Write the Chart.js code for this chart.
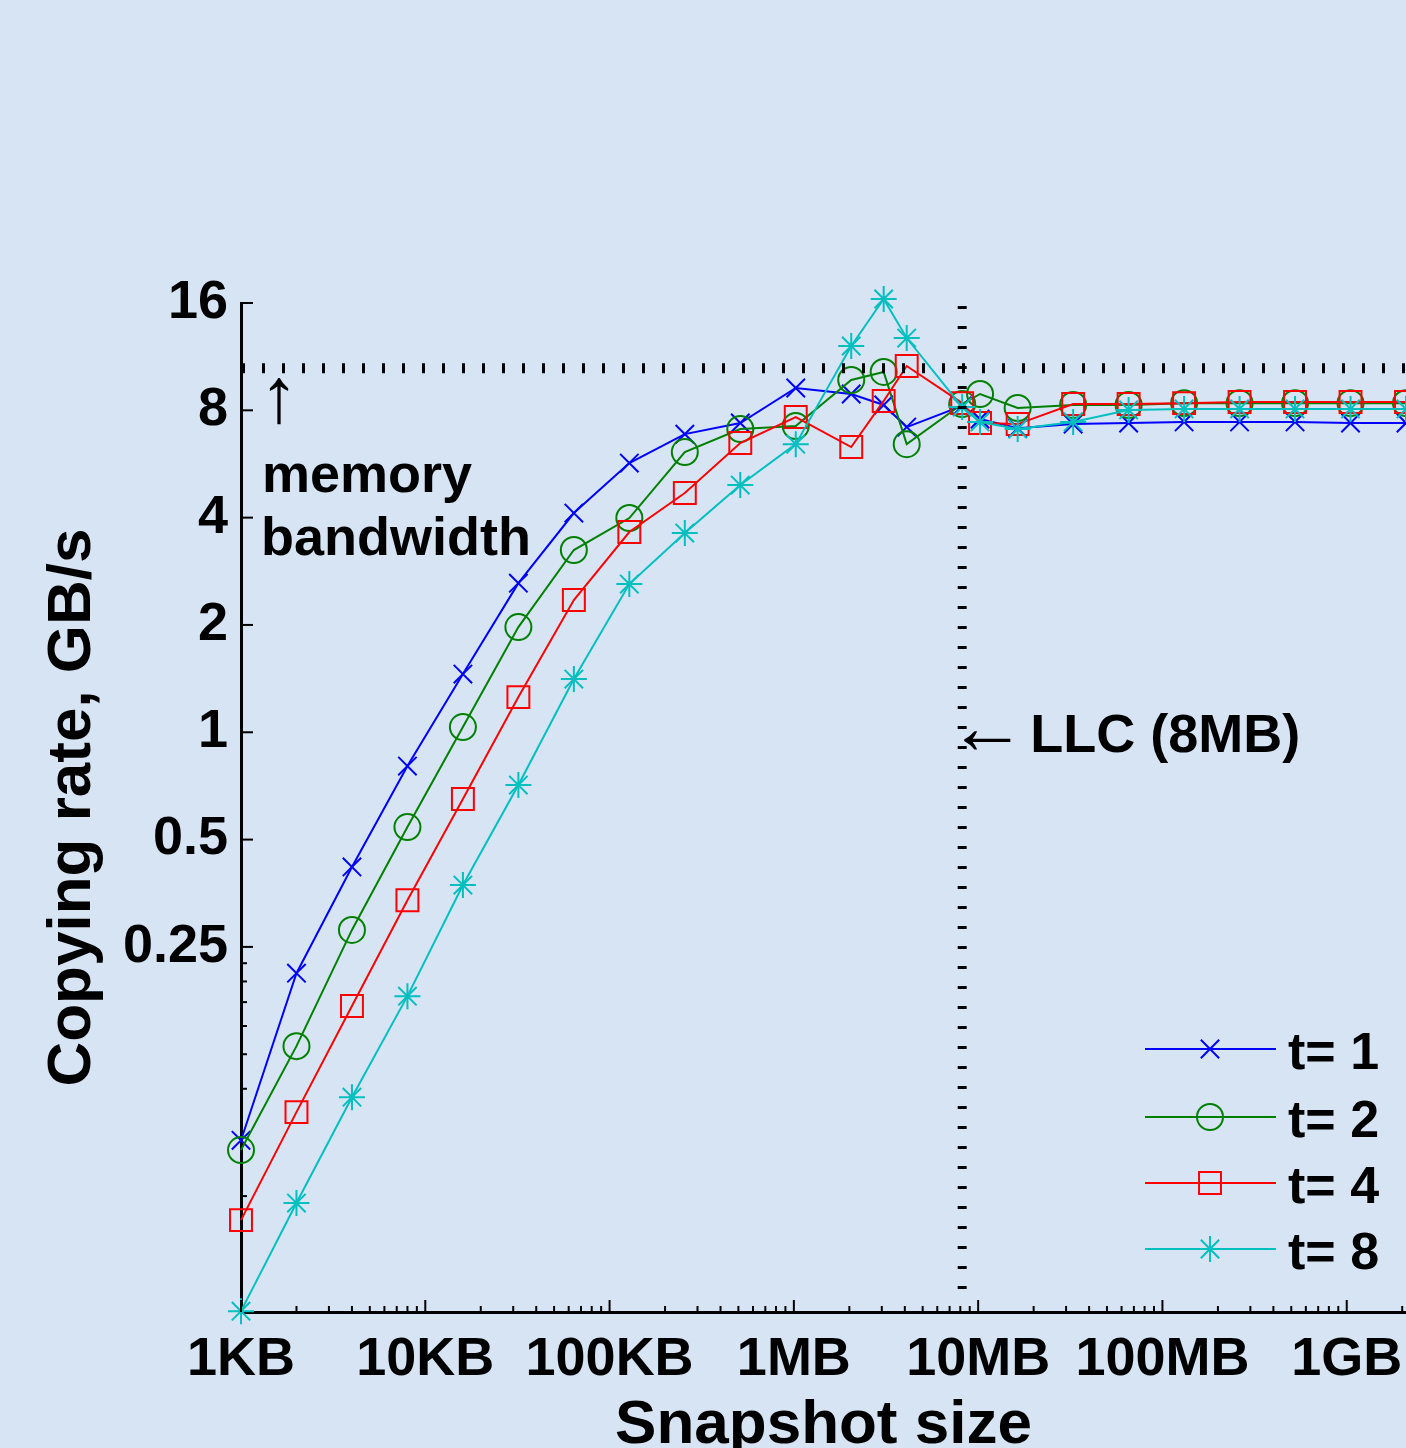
<!DOCTYPE html>
<html>
<head>
<meta charset="utf-8">
<script src="https://cdn.jsdelivr.net/npm/chart.js@4/dist/chart.umd.min.js"></script>
<style>
html,body{margin:0;padding:0;background:#D6E4F4;}
#wrap{width:1406px;height:1448px;position:relative;overflow:hidden;}
canvas{display:block;}
</style>
</head>
<body>
<div id="wrap"><canvas id="c" width="1406" height="1448"></canvas></div>
<script>
// ---- data (snapshot size in KB, copying rate in GB/s) ----
const sizesKB = [1,2,4,8,16,32,64,128,256,512,1024,2048,3072,4096,8192,10240,16384,32768,65536,131072,262144,524288,1048576,2097152];
const rateT1 = [0.0717,0.211,0.419,0.804,1.456,2.62,4.12,5.69,6.86,7.37,9.24,8.89,8.28,7.18,8.23,7.56,7.13,7.32,7.37,7.42,7.42,7.42,7.37,7.37];
const rateT2 = [0.0673,0.1317,0.279,0.542,1.034,1.973,3.245,3.99,6.11,7.09,7.23,9.73,10.25,6.43,8.33,8.89,8.12,8.28,8.28,8.38,8.38,8.38,8.38,8.38];
const rateT4 = [0.0428,0.086,0.1706,0.338,0.65,1.255,2.349,3.645,4.689,6.476,7.66,6.31,8.50,10.65,8.38,7.37,7.32,8.33,8.33,8.38,8.44,8.44,8.44,8.44];
const rateT8 = [0.02378,0.0478,0.0947,0.1819,0.3727,0.711,1.41,2.605,3.621,4.937,6.43,12.12,16.42,12.76,8.17,7.42,7.09,7.42,8.02,8.07,8.07,8.07,8.07,8.07];
const seriesLabels = ['t= 1','t= 2','t= 4','t= 8'];

const xTickValues = [1,10,100,1000,10000,100000,1000000];
const xTickLabels = ['1KB','10KB','100KB','1MB','10MB','100MB','1GB'];
const yTickValues = [0.25,0.5,1,2,4,8,16];
const yTickLabels = ['0.25','0.5','1','2','4','8','16'];
const yMinorTicks = [0.05,0.1,0.125,0.15,0.175,0.2,0.225];
const xMin = 1, xMax = 2097152;
const yMin = 0.02365, yMax = 16;
const memBandwidth = 10.5;   // GB/s
const llcSizeKB = 8192;      // 8MB

const xMinorTicks = [];
for (let d = 1; d <= 1e6; d *= 10) for (let m = 2; m <= 9; m++) if (d*m <= xMax) xMinorTicks.push(d*m);

const FONT = "'Liberation Sans', Arial, sans-serif";
const BG = '#D6E4F4';

const styles = [
  {color:'#0000FF', pointStyle:'crossRot', radius:13},
  {color:'#008000', pointStyle:'circle', radius:13},
  {color:'#FF0000', pointStyle:'rect', radius:15.5},
  {color:'#00BFBF', pointStyle:'star', radius:13}
];
const rates = [rateT1, rateT2, rateT4, rateT8];

const datasets = rates.map((r, i) => ({
  label: seriesLabels[i],
  data: sizesKB.map((s, k) => ({x: s, y: r[k]})),
  borderColor: styles[i].color,
  backgroundColor: 'rgba(0,0,0,0)',
  borderWidth: 2,
  pointStyle: styles[i].pointStyle,
  pointRadius: styles[i].radius,
  pointHoverRadius: styles[i].radius,
  pointBorderColor: styles[i].color,
  pointBackgroundColor: 'rgba(0,0,0,0)',
  pointBorderWidth: 2,
  tension: 0,
  clip: false,
  order: 4 - i
}));

function drawMarker(ctx, style, r, x, y) {
  if (Chart.helpers && Chart.helpers.drawPoint) {
    Chart.helpers.drawPoint(ctx, {pointStyle: style, radius: r, borderWidth: 2, rotation: 0}, x, y);
    return;
  }
  ctx.beginPath();
  ctx.arc(x, y, r, 0, Math.PI*2);
  ctx.stroke();
}

const bgPlugin = {
  id: 'bg',
  beforeDraw(chart) {
    const ctx = chart.ctx;
    ctx.save();
    ctx.fillStyle = BG;
    ctx.fillRect(0, 0, chart.width, chart.height);
    ctx.restore();
  }
};

const decorPlugin = {
  id: 'decor',
  afterDatasetsDraw(chart) {
    const {ctx, chartArea: a, scales: {x, y}} = chart;
    ctx.save();
    ctx.strokeStyle = '#000';
    // dotted memory-bandwidth line (horizontal)
    const py = y.getPixelForValue(memBandwidth);
    ctx.lineWidth = 10;
    ctx.lineCap = 'butt';
    ctx.setLineDash([3, 17]);
    ctx.beginPath();
    ctx.moveTo(a.left + 1, py);
    ctx.lineTo(a.right, py);
    ctx.stroke();
    // dotted LLC line (vertical)
    const px = x.getPixelForValue(llcSizeKB);
    ctx.lineWidth = 9;
    ctx.beginPath();
    ctx.moveTo(px, a.top + 3);
    ctx.lineTo(px, a.bottom - 8);
    ctx.stroke();
    ctx.restore();
  },
  afterDraw(chart) {
    const {ctx, chartArea: a, scales: {x, y}} = chart;
    ctx.save();
    ctx.strokeStyle = '#000';
    ctx.lineWidth = 2;
    ctx.setLineDash([]);
    const seg = (x1, y1, x2, y2) => { ctx.beginPath(); ctx.moveTo(x1, y1); ctx.lineTo(x2, y2); ctx.stroke(); };
    xTickValues.forEach(v => { const p = x.getPixelForValue(v); seg(p, a.bottom, p, a.bottom - 12); });
    xMinorTicks.forEach(v => { const p = x.getPixelForValue(v); seg(p, a.bottom, p, a.bottom - 6); });
    yTickValues.forEach(v => { const p = y.getPixelForValue(v); seg(a.left, p, a.left + 12, p); });
    yMinorTicks.forEach(v => { const p = y.getPixelForValue(v); seg(a.left, p, a.left + 6, p); });

    // annotations
    const llcX = x.getPixelForValue(llcSizeKB);
    ctx.fillStyle = '#000';
    ctx.textAlign = 'left';
    ctx.textBaseline = 'alphabetic';
    ctx.font = 'bold 54px ' + FONT;
    ctx.fillText('memory', a.left + 21, 492);
    ctx.fillText('bandwidth', a.left + 20, 555);
    ctx.fillText('LLC (8MB)', llcX + 68, 752);
    ctx.font = '78px ' + FONT;
    ctx.textAlign = 'center';
    ctx.textBaseline = 'middle';
    ctx.fillText('\u2191', a.left + 38, 400);
    ctx.textAlign = 'left';
    ctx.fillText('\u2190', llcX - 14, 731);

    // legend
    const rowY = [1049, 1117, 1183, 1249];
    styles.forEach((s, i) => {
      ctx.strokeStyle = s.color;
      ctx.fillStyle = 'rgba(0,0,0,0)';
      ctx.lineWidth = 2;
      seg(1145, rowY[i], 1276, rowY[i]);
      drawMarker(ctx, s.pointStyle, s.radius, 1210, rowY[i]);
      ctx.fillStyle = '#000';
      ctx.font = 'bold 52px ' + FONT;
      ctx.textAlign = 'left';
      ctx.textBaseline = 'alphabetic';
      ctx.fillText(seriesLabels[i], 1288, rowY[i] + 20);
    });
    ctx.restore();
  }
};

new Chart(document.getElementById('c'), {
  type: 'line',
  data: {datasets},
  options: {
    responsive: false,
    animation: false,
    events: [],
    layout: {autoPadding: false, padding: {top: 303, left: 0, right: 0, bottom: 0}},
    plugins: {legend: {display: false}, tooltip: {enabled: false}},
    scales: {
      x: {
        type: 'logarithmic', position: 'bottom', min: xMin, max: xMax,
        grid: {display: false, drawTicks: false},
        border: {display: true, color: '#000', width: 3},
        ticks: {
          autoSkip: false, maxRotation: 0, minRotation: 0, padding: 16, color: '#000',
          font: {family: FONT, size: 54, weight: 'bold'},
          callback: (v) => { const i = xTickValues.indexOf(v); return i >= 0 ? xTickLabels[i] : ''; }
        },
        afterBuildTicks: (s) => { s.ticks = xTickValues.map(v => ({value: v})); },
        afterFit: (s) => { s.height = 136; s.paddingLeft = 0; s.paddingRight = 0; },
        title: {display: true, text: 'Snapshot size', color: '#000',
          font: {family: FONT, size: 62, weight: 'bold', lineHeight: 1}, padding: {top: 0, bottom: -9}}
      },
      y: {
        type: 'logarithmic', position: 'left', min: yMin, max: yMax,
        grid: {display: false, drawTicks: false},
        border: {display: true, color: '#000', width: 3},
        ticks: {
          autoSkip: false, padding: 13, color: '#000',
          font: {family: FONT, size: 54, weight: 'bold'},
          callback: (v) => { const i = yTickValues.indexOf(v); return i >= 0 ? yTickLabels[i] : ''; }
        },
        afterBuildTicks: (s) => { s.ticks = yTickValues.map(v => ({value: v})); },
        afterFit: (s) => { s.width = 241; s.paddingTop = 0; s.paddingBottom = 0; },
        title: {display: true, text: 'Copying rate, GB/s', color: '#000',
          font: {family: FONT, size: 62, weight: 'bold', lineHeight: 1}, padding: {top: 42, bottom: 0}}
      }
    }
  },
  plugins: [bgPlugin, decorPlugin]
});
</script>
</body>
</html>
